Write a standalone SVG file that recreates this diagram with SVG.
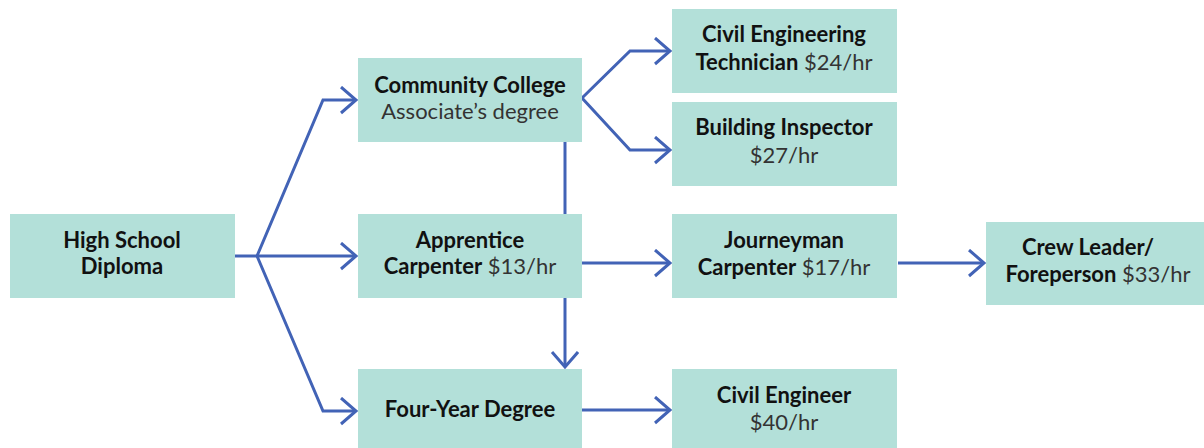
<svg xmlns="http://www.w3.org/2000/svg" width="1204" height="448" viewBox="0 0 1204 448">
<defs>
<style>
.box{fill:#b3e0d9}
.t{font-family:Lato,"Liberation Sans",sans-serif;font-size:22px;text-anchor:middle;fill:#111}
.b{font-weight:700}
.r{font-weight:400;fill:#333}
.c{fill:none;stroke:#4263b6;stroke-width:3;stroke-linejoin:miter}
</style>
<marker id="ah" markerWidth="20" markerHeight="30" refX="16" refY="14" orient="auto" markerUnits="userSpaceOnUse">
<path d="M1,1 L16,14 L1,27" fill="none" stroke="#4263b6" stroke-width="3"/>
</marker>
</defs>
<g id="connectors">
<path class="c" d="M235,256 L257,256"/>
<path class="c" d="M257,256 L323,100 L356,100" marker-end="url(#ah)"/>
<path class="c" d="M257,256 L356,256" marker-end="url(#ah)"/>
<path class="c" d="M257,256 L323,411 L356,411" marker-end="url(#ah)"/>
<path class="c" d="M565,142 L565,214"/>
<path class="c" d="M565,298 L565,367" marker-end="url(#ah)"/>
<path class="c" d="M582,98 L630,51 L670,51" marker-end="url(#ah)"/>
<path class="c" d="M582,98 L630,150 L670,150" marker-end="url(#ah)"/>
<path class="c" d="M582,263 L670,263" marker-end="url(#ah)"/>
<path class="c" d="M898,263 L984,263" marker-end="url(#ah)"/>
<path class="c" d="M582,410 L670,410" marker-end="url(#ah)"/>
</g>
<g id="high-school">
<rect class="box" x="10" y="214" width="225" height="84"/>
<text class="t b" x="122" y="248">High School</text>
<text class="t b" x="122" y="274">Diploma</text>
</g>
<g id="community-college">
<rect class="box" x="358" y="58" width="224" height="84"/>
<text class="t b" x="470" y="93">Community College</text>
<text class="t r" x="470" y="119">Associate’s degree</text>
</g>
<g id="apprentice">
<rect class="box" x="358" y="214" width="224" height="84"/>
<text class="t b" x="470" y="248">Apprentice</text>
<text class="t" x="470" y="274"><tspan class="b">Carpenter</tspan> <tspan class="r">$13/hr</tspan></text>
</g>
<g id="four-year">
<rect class="box" x="358" y="369" width="224" height="84"/>
<text class="t b" x="470" y="417">Four-Year Degree</text>
</g>
<g id="civil-eng-tech">
<rect class="box" x="672" y="9" width="225" height="84"/>
<text class="t b" x="784" y="42">Civil Engineering</text>
<text class="t" x="784" y="70"><tspan class="b">Technician</tspan> <tspan class="r">$24/hr</tspan></text>
</g>
<g id="building-inspector">
<rect class="box" x="672" y="102" width="225" height="84"/>
<text class="t b" x="784" y="135">Building Inspector</text>
<text class="t r" x="784" y="163">$27/hr</text>
</g>
<g id="journeyman">
<rect class="box" x="672" y="214" width="225" height="84"/>
<text class="t b" x="784" y="248">Journeyman</text>
<text class="t" x="784" y="275"><tspan class="b">Carpenter</tspan> <tspan class="r">$17/hr</tspan></text>
</g>
<g id="crew-leader">
<rect class="box" x="986" y="222" width="218" height="83"/>
<text class="t b" x="1088" y="255">Crew Leader/</text>
<text class="t" x="1098" y="282"><tspan class="b">Foreperson</tspan> <tspan class="r">$33/hr</tspan></text>
</g>
<g id="civil-engineer">
<rect class="box" x="672" y="369" width="225" height="84"/>
<text class="t b" x="784" y="403">Civil Engineer</text>
<text class="t r" x="784" y="430">$40/hr</text>
</g>
</svg>
